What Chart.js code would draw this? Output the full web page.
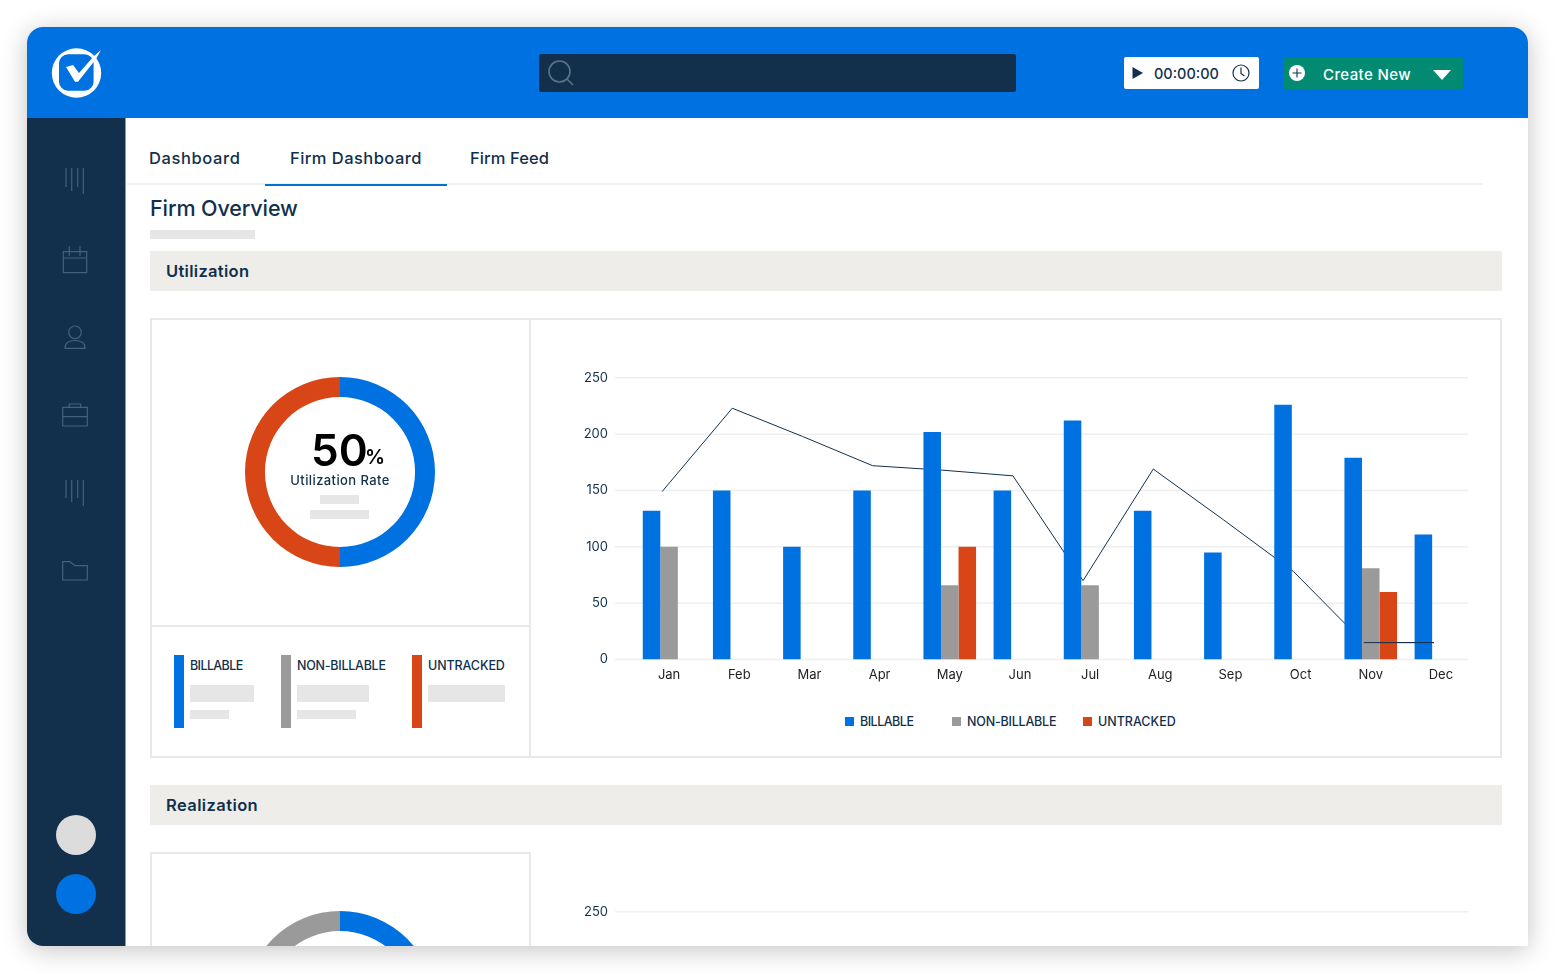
<!DOCTYPE html>
<html lang="en">
<head>
<meta charset="UTF-8">
<title>Firm Overview</title>
<script src="https://cdn.jsdelivr.net/npm/chart.js"></script>
<style>
    * { margin: 0; padding: 0; box-sizing: border-box; font-family: Inter, Arial, sans-serif; }
    html, body { width: 1555px; height: 974px; background: #fff; overflow: hidden; color: #12304c; }
    .frame { position: absolute; left: 27px; top: 27px; width: 1501px; height: 919px; border-radius: 16px 16px 0 16px; overflow: hidden; background: #fff; }
    .shadow { position: absolute; left: 27px; top: 27px; width: 1501px; height: 919px; border-radius: 16px 16px 0 16px; box-shadow: 0 4px 26px rgba(0,0,0,.24); }
    .stage { position: absolute; left: -27px; top: -27px; width: 1555px; height: 974px; }
    .stage > * { position: absolute; }
    .ph { background: #e6e6e6; }
    .txt { white-space: nowrap; line-height: 1; }
    .tab { font-size: 16.5px; font-weight: 500; }
    .band { left: 150px; width: 1352px; height: 40px; background: #eeedea; }
    .band-txt { left: 166px; font-size: 16.5px; font-weight: 600; }
    .line { background: #e8e8e8; }
    .lg { font-size: 12.5px; font-weight: 500; }
    #chartLegend span { position: absolute; white-space: nowrap; line-height: 1; font-size: 12.5px; font-weight: 500; }
    #chartLegend i { position: absolute; width: 9px; height: 9px; }
</style>
</head>
<body>
<div class="shadow"></div>
<div class="frame"><div class="stage">
    <!-- header -->
    <div style="left:27px;top:27px;width:1501px;height:91px;background:#0071e1"></div>
    <svg style="left:48px;top:45px" width="58" height="56" viewBox="0 0 58 56">
        <circle cx="28.5" cy="28" r="24.7" fill="#fff"/>
        <rect x="11" y="9.3" width="34.6" height="36.4" rx="9" fill="#0071e1"/>
        <path d="M18 22 L25 20 L31 28 L46 11 L53 5 L48 14 L30 36.7 L27 36.7 Z" fill="#fff"/>
    </svg>
    <div style="left:539px;top:54px;width:477px;height:38px;background:#12304c;border-radius:2px"></div>
    <svg style="left:545px;top:58px" width="32" height="32" viewBox="0 0 32 32" fill="none" stroke="#5b7188" stroke-width="1.6">
        <circle cx="14.5" cy="13.5" r="10.5"/><path d="M22 21 L28 27"/>
    </svg>
    <div style="left:1124px;top:57px;width:135px;height:32px;background:#fff;border-radius:2px"></div>
    <svg style="left:1130px;top:65px" width="16" height="16" viewBox="0 0 16 16"><path d="M2.5 2 L13 8 L2.5 14 Z" fill="#12304c"/></svg>
    <div class="txt" style="left:1154px;top:67px;font-size:14.5px;font-weight:500">00:00:00</div>
    <svg style="left:1231px;top:63px" width="20" height="20" viewBox="0 0 20 20" fill="none" stroke="#12304c" stroke-width="1.2">
        <circle cx="10" cy="10" r="8"/><path d="M10 4.5 V10.5 L13.5 13"/>
    </svg>
    <div style="left:1283px;top:57px;width:180px;height:32px;background:#028a72;border-radius:2px"></div>
    <svg style="left:1288px;top:64px" width="18" height="18" viewBox="0 0 18 18">
        <circle cx="9" cy="9" r="8" fill="#fff"/><path d="M9 4.5 V13.5 M4.5 9 H13.5" stroke="#12304c" stroke-width="1.1"/>
    </svg>
    <div class="txt" style="left:1323px;top:67px;font-size:15px;font-weight:500;letter-spacing:.4px;color:#fff">Create New</div>
    <svg style="left:1432px;top:69px" width="20" height="12" viewBox="0 0 20 12"><path d="M1 1 H19 L10 11 Z" fill="#fff"/></svg>

    <!-- sidebar -->
    <div style="left:27px;top:118px;width:99px;height:828px;background:#12304c;border-right:1px solid #8d98a3"></div>
    <svg style="left:60px;top:160px" width="30" height="430" viewBox="0 0 30 430" fill="none" stroke="#45607e" stroke-width="1.2">
        <path d="M6 8 V27 M11.7 8 V31 M17.7 8 V27 M23.3 8 V34"/>
        <path d="M3.3 91.7 H26.7 V112.7 H3.3 Z M3.3 98 H26.7 M9.3 86 V96 M20 86 V96"/>
        <circle cx="15" cy="172.3" r="6.3"/><path d="M5 188.3 C5 182 10 180.5 15 180.5 C20 180.5 25 182 25 188.3 Z"/>
        <path d="M2.7 247.3 H27.3 V266 H2.7 Z M2.7 256.7 H27.3 M9.3 247.3 V244 H20.7 V247.3"/>
        <path d="M6 320 V338 M11.7 320 V342 M17.7 320 V338 M23.3 320 V346"/>
        <path d="M2.7 420 V401.7 H10 L15 405.7 H27.3 V420 Z"/>
    </svg>
    <div style="left:56px;top:815px;width:40px;height:40px;border-radius:50%;background:#dcdcdc"></div>
    <div style="left:56px;top:874px;width:40px;height:40px;border-radius:50%;background:#0071e1"></div>

    <!-- tabs -->
    <div class="txt tab" style="left:149px;top:150px;letter-spacing:.6px">Dashboard</div>
    <div class="txt tab" style="left:290px;top:150px;letter-spacing:.45px">Firm Dashboard</div>
    <div class="txt tab" style="left:470px;top:150px;letter-spacing:.1px">Firm Feed</div>
    <div style="left:127px;top:183px;width:1356px;height:2px;background:#f0f3f6"></div>
    <div style="left:265px;top:184px;width:182px;height:2px;background:#0472c8"></div>
    <div class="txt" style="left:150px;top:198px;font-size:21.5px;font-weight:500;letter-spacing:-.1px">Firm Overview</div>
    <div class="ph" style="left:150px;top:230px;width:105px;height:9px"></div>

    <!-- utilization -->
    <div class="band" style="top:251px"></div>
    <div class="txt band-txt" style="top:263px;letter-spacing:.3px">Utilization</div>
    <div style="left:150px;top:318px;width:1352px;height:440px;border:2px solid #e8e8e8"></div>
    <div class="line" style="left:529px;top:319px;width:2px;height:438px"></div>
    <div class="line" style="left:151px;top:625px;width:379px;height:2px"></div>
    <canvas id="donutA" width="220" height="220" style="left:230px;top:362px"></canvas>
    <div class="txt" style="left:311px;top:428px;font-size:44px;font-weight:600;color:#000">50</div>
    <div class="txt" style="left:365px;top:447px;font-size:20px;font-weight:600;color:#000">%</div>
    <div class="txt" style="left:280px;top:474px;width:120px;text-align:center;font-size:13px;font-weight:500;letter-spacing:.4px">Utilization Rate</div>
    <div class="ph" style="left:320px;top:495px;width:39px;height:9px"></div>
    <div class="ph" style="left:310px;top:510px;width:59px;height:9px"></div>

    <div style="left:174px;top:655px;width:10px;height:73px;background:#0071e1"></div>
    <div style="left:281px;top:655px;width:10px;height:73px;background:#9a9a9a"></div>
    <div style="left:412px;top:655px;width:10px;height:73px;background:#d84516"></div>
    <div class="txt lg" style="left:190px;top:660px;letter-spacing:-.6px">BILLABLE</div>
    <div class="txt lg" style="left:297px;top:660px;letter-spacing:-.25px">NON-BILLABLE</div>
    <div class="txt lg" style="left:428px;top:660px;letter-spacing:-.1px">UNTRACKED</div>
    <div class="ph" style="left:190px;top:685px;width:64px;height:17px"></div>
    <div class="ph" style="left:190px;top:710px;width:39px;height:9px"></div>
    <div class="ph" style="left:297px;top:685px;width:72px;height:17px"></div>
    <div class="ph" style="left:297px;top:710px;width:59px;height:9px"></div>
    <div class="ph" style="left:428px;top:685px;width:77px;height:17px"></div>

    <canvas id="barsA" width="916" height="357" style="left:560px;top:344px"></canvas>
    <div id="chartLegend" style="left:0;top:0"></div>

    <!-- realization -->
    <div class="band" style="top:785px"></div>
    <div class="txt band-txt" style="top:797px;letter-spacing:.4px">Realization</div>
    <div style="left:150px;top:852px;width:381px;height:120px;border:2px solid #e8e8e8"></div>
    <canvas id="donutB" width="220" height="220" style="left:230px;top:896px"></canvas>
    <canvas id="barsB" width="916" height="357" style="left:560px;top:878px"></canvas>
</div></div>

<script>
    const months = ['Jan', 'Feb', 'Mar', 'Apr', 'May', 'Jun', 'Jul', 'Aug', 'Sep', 'Oct', 'Nov', 'Dec'];
    const billable = [132, 150, 100, 150, 202, 150, 212, 132, 95, 226, 179, 111];
    const nonBillable = [100, 0, 0, 0, 66, 0, 66, 0, 0, 0, 81, 0];
    const untracked = [0, 0, 0, 0, 100, 0, 0, 0, 0, 0, 60, 0];
    const trend = [149, 223, 198, 172, 168, 163, 70, 169, 124, 78, 15, 15];
    const yTicks = [0, 50, 100, 150, 200, 250];
    const utilization = [50, 50];
    const realization = [50, 50];
    const seriesNames = ['BILLABLE', 'NON-BILLABLE', 'UNTRACKED'];

    const BLUE = '#0071e1', GREY = '#9a9a9a', RED = '#d84516', NAVY = '#12304c';

    // gridlines in the design run a bit past the plot on the left and stop short on the right
    const gridLines = {
        id: 'gridLines',
        beforeDatasetsDraw(chart) {
            const ctx = chart.ctx, y = chart.scales.y;
            ctx.save();
            ctx.strokeStyle = '#efefef';
            ctx.lineWidth = 1.5;
            y.ticks.forEach(t => {
                const py = y.getPixelForValue(t.value);
                ctx.beginPath();
                ctx.moveTo(55, py);
                ctx.lineTo(908, py);
                ctx.stroke();
            });
            ctx.restore();
        }
    };

    // the trend line sits a little left of the month centres
    const lineShift = {
        id: 'lineShift',
        beforeDatasetDraw(chart, args) {
            if (args.meta.type === 'line') {
                chart.ctx.save();
                chart.ctx.translate(-7, 0);
            }
        },
        afterDatasetDraw(chart, args) {
            if (args.meta.type === 'line') chart.ctx.restore();
        }
    };

    function barChart(id, showMarks) {
        const bar = (label, data, color) => ({
            type: 'bar', label, data: showMarks ? data : [], backgroundColor: color,
            order: 2, categoryPercentage: 0.75, barPercentage: 1
        });
        const line = (label, from, order) => ({
            type: 'line', label, data: showMarks ? trend.map((v, i) => (i >= from ? v : null)) : [], order,
            borderColor: NAVY, borderWidth: 1, pointRadius: 0, tension: 0, fill: false
        });
        return new Chart(document.getElementById(id), {
            type: 'bar',
            data: {
                labels: months,
                datasets: [
                    line('Trend', 0, 3),
                    bar(seriesNames[0], billable, BLUE),
                    bar(seriesNames[1], nonBillable, GREY),
                    bar(seriesNames[2], untracked, RED),
                    line('Trend end', 10, 1)
                ]
            },
            options: {
                responsive: false,
                animation: false,
                layout: { padding: { top: 18 } },
                plugins: { legend: { display: false }, tooltip: { enabled: false } },
                scales: {
                    x: {
                        offset: true,
                        grid: { display: false, drawTicks: false },
                        border: { display: false },
                        ticks: { color: '#222', padding: 8, maxRotation: 0, font: { family: 'Inter', size: 13 } },
                        afterFit(s) { s.height = 41.5; }
                    },
                    y: {
                        min: 0,
                        max: 250,
                        grid: { display: false, drawTicks: false },
                        border: { display: false },
                        afterBuildTicks(s) { s.ticks = yTicks.map(value => ({ value })); },
                        ticks: { color: NAVY, padding: 26, font: { family: 'Inter', size: 13 } },
                        afterFit(s) { s.width = 74; }
                    }
                }
            },
            plugins: [gridLines, lineShift]
        });
    }

    function donut(id, values, colors) {
        return new Chart(document.getElementById(id), {
            type: 'doughnut',
            data: { datasets: [{ data: values, backgroundColor: colors, borderWidth: 0 }] },
            options: {
                responsive: false,
                animation: false,
                radius: 95,
                cutout: '79%',
                plugins: { legend: { display: false }, tooltip: { enabled: false } }
            }
        });
    }

    donut('donutA', utilization, [BLUE, RED]);
    donut('donutB', realization, [BLUE, GREY]);
    barChart('barsA', true);
    barChart('barsB', false);

    // legend under the bars
    const legendColors = [BLUE, GREY, RED];
    const legendLeft = [845, 952, 1083];
    const legendSpacing = ['-.5px', '-.2px', '0'];
    const legendBox = document.getElementById('chartLegend');
    seriesNames.forEach((name, i) => {
        const box = document.createElement('i');
        box.style.cssText = 'left:' + legendLeft[i] + 'px;top:717px;background:' + legendColors[i];
        const label = document.createElement('span');
        label.textContent = name;
        label.style.cssText = 'left:' + (legendLeft[i] + 15) + 'px;top:716px;letter-spacing:' + legendSpacing[i];
        legendBox.append(box, label);
    });
</script>
</body>
</html>
